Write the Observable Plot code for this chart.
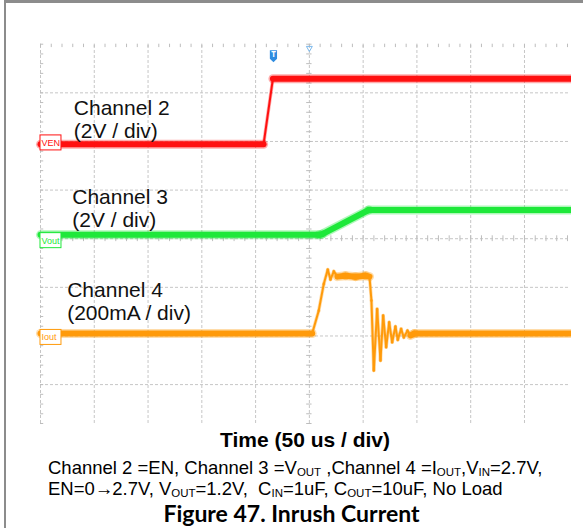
<!DOCTYPE html>
<html><head><meta charset="utf-8">
<script src="https://cdn.jsdelivr.net/npm/d3@7"></script>
<script src="https://cdn.jsdelivr.net/npm/@observablehq/plot@0.6"></script>
<style>
body{margin:0;background:#fff;}
#wrap{position:relative;width:583px;height:528px;overflow:hidden;background:#fff;font-family:"Liberation Sans",Arial,sans-serif;}
.bl{position:absolute;left:4px;top:0;width:2px;height:528px;background:#8c8c8c;}
.bt{position:absolute;left:4px;top:0;width:579px;height:3px;background:#8c8c8c;}
#chart{position:absolute;left:0;top:0;width:570.5px;height:428px;overflow:hidden;}
#chart svg{max-width:none !important;width:583px !important;height:428px !important;}
.cap{position:absolute;color:#000;white-space:nowrap;}
sub{font-size:62%;vertical-align:-0.2em;line-height:0;}
.arr{font-family:"Liberation Sans","DejaVu Sans",sans-serif;letter-spacing:-1px;}
</style></head>
<body><div id="wrap">
<div id="chart"></div>
<div class="bl"></div><div class="bt"></div>
<div class="cap" style="left:40px;width:530px;text-align:center;top:429px;font:bold 21px/21px 'Liberation Sans',Arial,sans-serif;">Time (50 us / div)</div>
<div class="cap" style="left:48px;top:458.5px;font:18.5px/18.5px 'Liberation Sans',Arial,sans-serif;">Channel 2 =EN, Channel 3 =V<sub>OUT</sub> ,Channel 4 =I<sub>OUT</sub>,V<sub>IN</sub>=2.7V,</div>
<div class="cap" style="left:48px;top:479.5px;font:18.5px/18.5px 'Liberation Sans',Arial,sans-serif;">EN=0<span class="arr">→</span>2.7V, V<sub>OUT</sub>=1.2V,&nbsp; C<sub>IN</sub>=1uF, C<sub>OUT</sub>=10uF, No Load</div>
<div class="cap" style="left:0;width:583px;text-align:center;top:502px;font:bold 23px/23px Lato,'Open Sans',sans-serif;">Figure 47. Inrush Current</div>
</div>
<script>
// ---- data (time in µs, 50 µs/div) ----
const gridTimes = [0, 50, 100, 150, 200, 250, 300, 350, 400, 450];
const gridDivs = [1, 2, 3, 4, 5, 6, 7];

// Channel 2: EN (V), 2 V/div
const enTime = [0, 207.4, 216.1, 492.8];
const enVolt = [0, 0, 2.7, 2.7];
// Channel 3: VOUT (V), 2 V/div
const voutTime = [0, 258.8, 262, 305.2, 492.8];
const voutVolt = [0, 0, 0.03, 1.02, 1.02];
// Channel 4: IOUT (mA), 200 mA/div
const ioutTime = [0, 252.6, 258.7, 263.4, 267.1, 269.6, 272.7, 276.1, 283.6, 292.9, 302.2, 305.9, 307.7, 309.9, 313.0, 316.1, 318.6, 321.4, 324.2, 327.0, 330.0, 332.2, 335.3, 337.8, 341.2, 344.0, 347.7, 492.8];
const ioutMA = [0, 0, 94, 204, 263, 222, 256, 234, 238, 234, 238, 234, 136, -152, 101, -111, 74, -56, 46, -36, 29, -26, 19, -16, 12, -8, 0, 0];

const channelNames = ["VEN", "Vout", "Iout"];
const channelLabels = ["Channel 2\n(2V / div)", "Channel 3\n(2V / div)", "Channel 4\n(200mA / div)"];

// ---- scope setup (screen divisions) ----
const chans = [
  {name: channelNames[0], t: enTime, v: enVolt, offset: 5.94, perDiv: 2, color: "#ff1010", box: 0.03, lx: 31, ly: 6.08},
  {name: channelNames[1], t: voutTime, v: voutVolt, offset: 4.08, perDiv: 2, color: "#1ee83a", box: -0.12, lx: 29.5, ly: 4.236},
  {name: channelNames[2], t: ioutTime, v: ioutMA, offset: 2.05, perDiv: 200, color: "#ff9a0a", box: -0.08, lx: 24.8, ly: 2.33}
];
const PX = 48.63; // px per division (vertical)

const segs = [];
chans.forEach(c => {
  for (let i = 0; i < c.t.length - 1; i++) {
    const y1 = c.offset + c.v[i] / c.perDiv, y2 = c.offset + c.v[i + 1] / c.perDiv;
    const slope = Math.abs((y2 - y1) / ((c.t[i + 1] - c.t[i]) / 50));
    const flat = slope < 1.5;
    segs.push({t1: c.t[i], t2: c.t[i + 1], y1, y2, color: c.color, w: flat ? 6 : 2, halo: flat ? 9 : 3.5});
  }
});

const minorT = d3.range(0, 492.8, 10);
const minorD = d3.range(0.2, 8.001, 0.2);

const flagSymbol = {draw(ctx, size) { const w = 3.6, h = 6; ctx.moveTo(-w, -h); ctx.lineTo(w, -h); ctx.lineTo(w, 2.5); ctx.lineTo(0, h); ctx.lineTo(-w, 2.5); ctx.closePath(); }};

const grid = "#c6c6c6";
const plot = Plot.plot({
  width: 583, height: 428,
  marginLeft: 40, marginRight: 13, marginTop: 43.7, marginBottom: 5,
  x: {domain: [0, 492.8], axis: null},
  y: {domain: [0.2, 8], axis: null},
  style: {background: "transparent", maxWidth: "none"},
  marks: [
    Plot.ruleX(gridTimes, {y1: 0.2, y2: 8, stroke: grid, strokeDasharray: "3,2"}),
    Plot.ruleY(gridDivs, {x1: 0, x2: 492.8, stroke: grid, strokeDasharray: "3,2"}),
    Plot.ruleX(minorT, {y1: 8, y2: 7.93, stroke: "#bdbdbd"}),
    Plot.ruleX(minorT, {y1: 3.94, y2: 4.06, stroke: "#bdbdbd"}),
    Plot.ruleY(minorD, {x1: 247.5, x2: 252.5, stroke: "#bdbdbd"}),
    Plot.ruleY(minorD, {x1: 0, x2: 3, stroke: "#bdbdbd"}),
    Plot.link(segs, {x1: "t1", y1: "y1", x2: "t2", y2: "y2", stroke: "color", strokeWidth: "halo", strokeOpacity: 0.35, strokeLinecap: "round"}),
    Plot.link(segs, {x1: "t1", y1: "y1", x2: "t2", y2: "y2", stroke: "color", strokeWidth: "w", strokeLinecap: "round"}),
    Plot.rect(chans, {x1: 0, x2: 19.5, y1: d => d.offset + d.box - 7.5 / PX, y2: d => d.offset + d.box + 7.5 / PX, fill: "white", stroke: "color", strokeWidth: 1}),
    Plot.text(chans, {x: 0.9, y: d => d.offset + d.box, text: "name", fill: "color", fontSize: 9, textAnchor: "start", fontFamily: "Liberation Sans", style: "letter-spacing:-0.4px"}),
    Plot.text(chans, {x: "lx", y: "ly", text: (d, i) => channelLabels[i], textAnchor: "start", lineAnchor: "bottom", lineHeight: 1.095, fontSize: 21, fill: "#111", fontFamily: "Liberation Sans"}),
    Plot.dot([216.6], {x: d => d, y: 7.75, symbol: flagSymbol, r: 6, fill: "#2f8ce0", stroke: "none"}),
    Plot.text([216.6], {x: d => d, y: 7.78, text: () => "T", fill: "white", fontSize: 8, fontWeight: "bold"}),
    Plot.dot([250], {x: d => d, y: 7.92, symbol: "triangle", rotate: 180, r: 2.2, stroke: "#7ab8ec", fill: "none", strokeWidth: 1})
  ]
});
document.getElementById("chart").appendChild(plot);
</script>
</body></html>
